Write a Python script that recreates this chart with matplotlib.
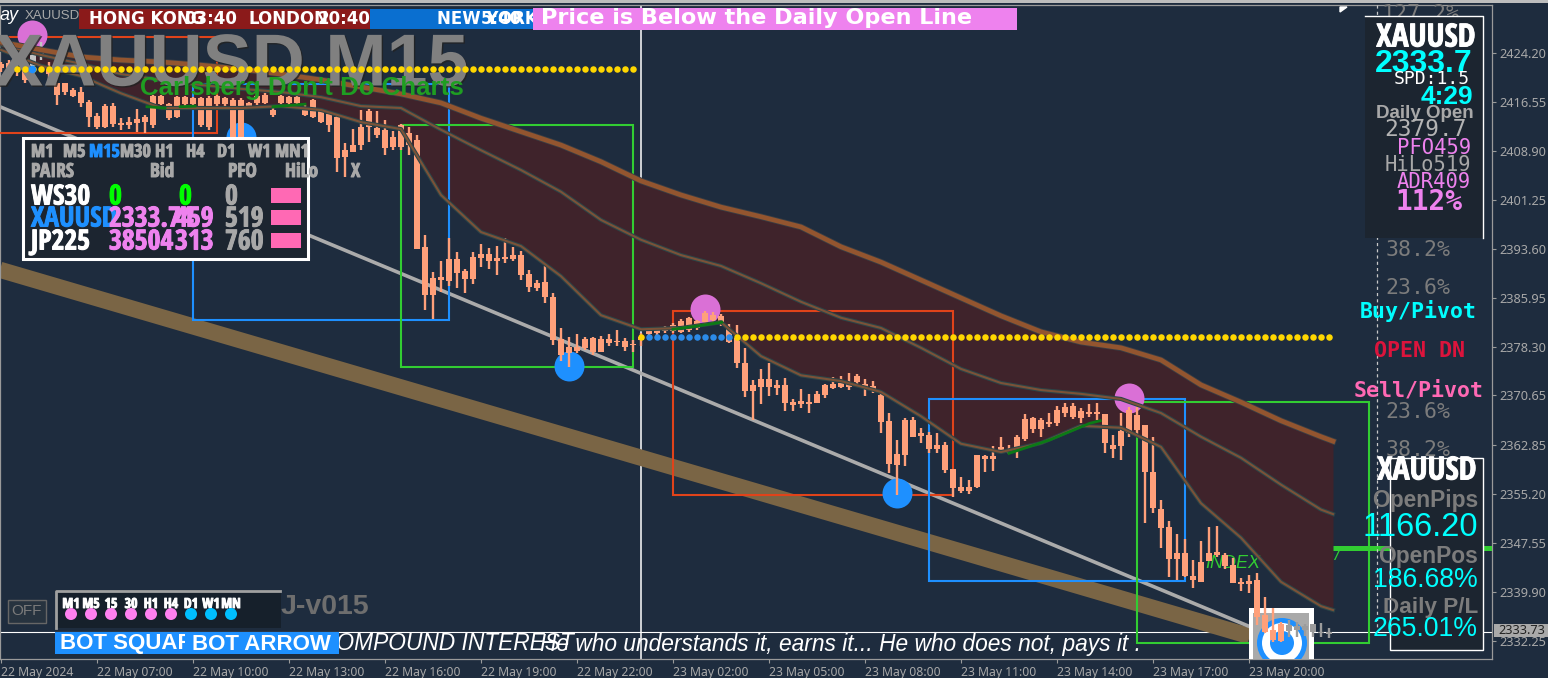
import numpy as np
import matplotlib
matplotlib.use('Agg')
import matplotlib.pyplot as plt
from matplotlib.patches import Rectangle, Circle
from matplotlib.transforms import Affine2D
import matplotlib.patheffects as pe

highs = [2422.8,2423.1,2422.5,2422.2,2426.5,2425.9,2422.8,2419.5,2419.5,2418.7,2418.9,2416.9,2414.8,2416.2,2416.4,2414.0,2414.2,2415.5,2414.5,2417.6,
2417.6,2416.4,2417.5,2417.5,2417.3,2417.3,2417.5,2417.6,2417.3,2417.2,2417.2,2416.5,2418.1,2417.9,2415.6,2417.6,2417.5,2417.5,2416.1,2417.0,
2415.5,2415.0,2414.5,2410.1,2412.3,2415.3,2415.5,2415.1,2413.7,2412.0,2413.1,2412.6,2411.4,2395.7,2389.9,2391.7,2395.3,2393.1,2390.4,2393.1,
2394.3,2393.7,2394.0,2395.3,2393.9,2393.2,2390.3,2388.7,2390.9,2386.7,2381.2,2379.8,2380.3,2379.8,2379.8,2379.9,2380.3,2380.9,2379.6,2379.3,
2380.4,2381.2,2381.4,2381.5,2382.0,2382.6,2382.9,2382.5,2383.9,2383.7,2383.4,2381.8,2381.7,2378.1,2373.1,2374.8,2375.7,2373.1,2373.4,2370.1,
2371.7,2370.9,2371.4,2372.4,2373.5,2373.7,2374.2,2374.0,2373.2,2372.9,2371.2,2367.9,2363.7,2367.1,2367.3,2365.6,2364.9,2364.8,2363.4,2359.2,
2357.9,2357.4,2361.3,2361.3,2362.7,2364.2,2362.9,2364.5,2367.7,2367.3,2367.1,2367.9,2369.0,2369.5,2369.5,2368.7,2369.3,2369.5,2367.7,2364.5,
2367.9,2368.8,2368.8,2366.0,2364.2,2354.3,2351.0,2349.0,2348.2,2344.9,2347.9,2350.1,2350.2,2346.0,2345.2,2342.1,2342.6,2342.9,2339.1,2337.4,
2335.2,2335.5,2335.2,2334.9,2334.9,2335.1,2334.3]
opens = [2422.5,2422.6,2421.8,2421.5,2423.9,2425.0,2421.8,2419.5,2419.5,2418.4,2418.1,2416.5,2414.3,2415.9,2415.9,2413.3,2413.4,2413.9,2414.2,2417.5,
2417.5,2416.2,2417.3,2417.3,2417.2,2417.2,2417.2,2417.5,2417.2,2416.9,2416.9,2416.4,2417.5,2417.6,2415.3,2417.5,2417.3,2417.3,2415.8,2416.9,
2415.3,2414.7,2414.2,2409.0,2409.8,2412.6,2415.1,2412.5,2412.2,2411.1,2412.9,2411.7,2410.6,2393.9,2389.0,2389.2,2392.0,2392.0,2390.1,2392.3,
2392.8,2392.8,2392.1,2392.3,2392.6,2392.6,2389.6,2388.2,2388.4,2386.1,2379.5,2378.2,2378.2,2379.5,2379.6,2379.5,2379.5,2379.2,2379.2,2378.7,
2379.8,2380.9,2381.1,2381.4,2381.7,2382.3,2382.8,2382.3,2383.5,2383.2,2383.1,2381.1,2379.6,2375.7,2372.3,2373.2,2373.2,2372.3,2372.3,2369.6,
2369.8,2369.6,2370.9,2372.3,2372.4,2372.6,2372.6,2373.7,2372.4,2372.1,2370.7,2366.6,2361.5,2366.8,2366.8,2364.8,2364.5,2362.9,2362.9,2359.2,
2356.3,2356.3,2361.3,2361.2,2361.2,2362.6,2362.3,2364.2,2367.0,2367.1,2366.8,2366.5,2368.4,2368.8,2369.0,2368.2,2368.1,2368.1,2367.7,2362.9,
2365.1,2368.4,2367.6,2366.0,2358.7,2352.9,2350.1,2346.0,2346.0,2342.4,2344.6,2346.0,2346.2,2345.7,2344.1,2341.5,2341.6,2341.8,2336.3,2334.0,
2334.9,2334.8,2334.6,2334.6,2334.9,2333.7,2333.7]
closes = [2421.8,2421.8,2421.2,2420.0,2422.2,2424.0,2420.9,2417.6,2418.1,2417.5,2416.4,2414.2,2412.6,2412.6,2413.1,2412.9,2412.9,2413.3,2413.4,2412.9,
2416.2,2414.0,2414.2,2416.2,2416.2,2412.9,2412.6,2416.2,2416.2,2410.9,2410.6,2415.9,2416.4,2416.4,2414.5,2416.4,2416.4,2416.4,2414.5,2414.2,
2413.4,2412.9,2407.8,2407.9,2408.7,2409.8,2412.6,2411.4,2409.4,2409.5,2409.5,2409.8,2393.6,2386.4,2386.4,2388.7,2388.6,2389.8,2388.9,2388.9,
2392.1,2391.7,2391.7,2392.0,2392.0,2389.5,2387.6,2387.5,2386.1,2379.3,2377.0,2377.3,2377.6,2378.1,2377.5,2377.5,2378.9,2379.0,2378.2,2378.5,
2379.3,2380.3,2380.4,2380.7,2380.7,2380.6,2380.9,2381.2,2382.1,2382.5,2382.0,2379.0,2375.7,2371.3,2371.3,2372.0,2372.0,2371.8,2369.5,2369.2,
2369.3,2369.3,2369.5,2370.7,2371.8,2372.0,2372.0,2372.8,2371.8,2371.3,2366.5,2359.9,2359.8,2361.3,2364.2,2364.3,2362.3,2362.3,2359.0,2356.2,
2355.7,2355.7,2356.3,2360.7,2360.7,2362.1,2361.7,2362.4,2363.8,2365.4,2365.4,2366.2,2366.4,2367.9,2367.3,2367.1,2367.7,2367.7,2363.2,2362.3,
2362.7,2364.8,2365.3,2358.7,2353.1,2349.9,2345.1,2345.1,2342.4,2341.8,2341.5,2344.8,2345.7,2344.0,2341.3,2341.2,2341.2,2336.0,2333.7,2332.4,
2332.2,2333.8,2334.0,2334.0,2333.7,2333.5,2333.4]
lows = [2421.2,2421.2,2420.6,2419.5,2421.5,2423.1,2420.0,2416.1,2417.6,2417.3,2415.8,2412.6,2412.3,2412.5,2412.6,2412.2,2412.3,2411.9,2411.7,2412.5,
2416.1,2413.7,2414.0,2415.9,2415.9,2412.6,2412.2,2415.9,2415.9,2410.6,2410.3,2415.6,2416.1,2416.2,2414.2,2416.1,2416.1,2416.1,2414.4,2414.0,
2413.3,2411.9,2405.6,2404.8,2408.7,2409.0,2410.3,2410.9,2408.2,2409.0,2409.0,2408.2,2393.6,2384.0,2382.6,2386.8,2387.8,2387.5,2386.7,2388.1,
2390.7,2390.4,2389.5,2391.4,2391.7,2388.7,2386.8,2387.0,2385.1,2378.5,2376.0,2375.1,2377.3,2377.8,2377.0,2377.5,2378.4,2378.4,2377.6,2377.5,
2378.4,2379.6,2379.9,2380.4,2380.4,2380.4,2380.6,2380.9,2381.5,2381.8,2381.5,2378.9,2374.9,2370.4,2366.8,2369.3,2370.6,2370.7,2368.2,2368.2,
2368.7,2367.9,2369.5,2370.3,2371.7,2371.8,2371.5,2372.4,2370.6,2371.0,2364.8,2358.5,2355.1,2359.6,2364.2,2363.2,2361.7,2361.7,2358.5,2354.8,
2355.4,2355.2,2356.2,2358.7,2358.8,2362.1,2361.5,2360.9,2363.5,2364.8,2364.2,2365.7,2365.9,2367.3,2367.0,2366.3,2367.3,2366.8,2361.7,2360.9,
2360.6,2364.2,2364.2,2350.7,2352.3,2346.8,2342.3,2341.8,2342.3,2340.5,2341.5,2344.8,2345.4,2343.5,2341.3,2340.1,2339.8,2334.8,2333.5,2332.1,
2332.1,2332.9,2332.9,2333.0,2332.9,2332.9,2332.7]

ma_bars = list(range(0, 166, 5)) + [166.5]
ma_upper = [2425.9,2424.7,2423.6,2423.1,2422.8,2422.3,2421.7,2420.9,2420.0,2418.9,2417.8,2416.4,2414.0,2411.9,2409.8,2407.2,2404.2,2402.0,2400.1,2398.6,2397.0,2393.9,2391.5,2388.7,2385.9,2383.1,2380.6,2379.0,2378.1,2376.2,2372.3,2369.6,2366.7,2364.2,2363.5]
ma_middle = [2425.5,2423.9,2422.5,2420.9,2420.0,2419.2,2418.6,2418.1,2417.3,2415.9,2415.6,2412.2,2409.0,2405.9,2402.5,2398.1,2395.0,2392.6,2390.9,2388.2,2385.3,2382.8,2381.2,2378.1,2374.8,2372.6,2371.5,2370.9,2370.1,2367.9,2364.2,2360.9,2356.7,2352.8,2352.1]
ma_lower = [2424.7,2422.2,2420.6,2417.9,2415.6,2415.6,2415.6,2415.9,2415.3,2413.4,2412.3,2402.0,2396.2,2394.0,2389.3,2383.2,2381.0,2381.2,2382.1,2376.8,2373.8,2372.9,2371.2,2367.4,2363.1,2361.8,2363.2,2365.9,2365.6,2362.6,2353.8,2348.4,2341.5,2337.7,2337.1]
green_bars = [[18.25, 20.5], [22.4, 24.25], [34, 38], [84, 87, 90.1], [126, 131.1, 136.1, 137.4]]
green_prices = [[2415.8, 2415.6], [2415.8, 2415.9], [2415.8, 2416.2], [2381.0, 2381.5, 2382.1], [2361.6, 2363.7, 2366.3, 2366.7]]

sell_bars = [3.9, 88, 141]
sell_prices = [2427.0, 2384.2, 2370.2]
buy_bars = [30, 71, 112]
buy_prices = [2411.1, 2375.3, 2355.4]

open_levels = [2421.7, 2379.8]
bid = 2333.73
grey_trend = ([-0.125, 156.1], [2415.8, 2334.5])
tan_trend = ([-0.125, 156.1], [2390.3, 2333.0])

# start bar, end bar, top price, bottom price
red_boxes = [(-0.25, 27, 2426.7, 2411.7), (84, 119, 2383.9, 2355.1)]
blue_boxes = [(24, 56, 2419.4, 2382.5), (116, 148, 2370.1, 2341.6)]
green_boxes = [(50, 79, 2412.9, 2375.1), (142, 171, 2369.6, 2331.9)]

y_ticks = [2424.20, 2416.55, 2408.90, 2401.25, 2393.60, 2385.95, 2378.30, 2370.65, 2362.85, 2355.20, 2347.55, 2339.90, 2332.25]
x_labels = ['22 May 2024', '22 May 07:00', '22 May 10:00', '22 May 13:00', '22 May 16:00', '22 May 19:00', '22 May 22:00',
            '23 May 02:00', '23 May 05:00', '23 May 08:00', '23 May 11:00', '23 May 14:00', '23 May 17:00', '23 May 20:00']
tf_labels = ['M1', 'M5', 'M15', 'M30', 'H1', 'H4', 'D1', 'W1', 'MN1']
mini_labels = ['M1', 'M5', '15', '30', 'H1', 'H4', 'D1', 'W1', 'MN']

BG = '#1E2C3E'
PANEL = '#1C2530'
SALMON = '#FFA07A'
GREY = '#A8A8A8'
DIM = '#7C7C7C'
CYAN = '#00FFFF'
VIOLET = '#EE82EE'
BLUE = '#1E90FF'
SANS = 'Liberation Sans'
MONO = 'DejaVu Sans Mono'
NARROW = 'Open Sans Condensed'

W, H = 1548, 678
fig = plt.figure(figsize=(W / 100, H / 100), dpi=100, facecolor=BG)
ax = fig.add_axes([0, 1 - 659 / H, 1492 / W, 654 / H], facecolor=BG)
ax.set_xlim(-0.125, 186.375)
ax.set_ylim(2329.44, 2431.71)

# screen pixels, y down: for the indicator panels stuck on the window
px = Affine2D().scale(1, -1).translate(0, H)


def txt(x, y, s, size, color, weight='normal', ha='left', family=SANS, z=30, **kw):
    t = ax.text(x, y, s, transform=px, fontsize=size, color=color, fontweight=weight, ha=ha, va='center',
                family=family, zorder=z, **kw)
    if family == NARROW:
        # reference uses a much heavier condensed face
        t.set_path_effects([pe.withStroke(linewidth=0.7, foreground=color)])
    return t


def box(x0, y0, x1, y1, fc='none', ec='none', lw=0, z=20, **kw):
    r = Rectangle((x0, y0), x1 - x0, y1 - y0, transform=px, facecolor=fc, edgecolor=ec, linewidth=lw,
                  zorder=z, clip_on=False, **kw)
    ax.add_patch(r)
    return r


for s in ax.spines.values():
    s.set_color('#9A9A9A')
    s.set_linewidth(0.9)
ax.yaxis.tick_right()
ax.set_yticks(y_ticks)
ax.set_yticklabels([f'{t:.2f}' for t in y_ticks], fontsize=9.2, color=GREY, family='Noto Sans')
ax.set_xticks(np.arange(len(x_labels)) * 12)
ax.set_xticklabels(x_labels, fontsize=8.8, color=GREY, family='Noto Sans', ha='left')
ax.tick_params(axis='both', color='#9A9A9A', length=3, width=0.8, pad=2)

# things under the band
ax.axvline(80, color='white', lw=1.1, zorder=1)
ax.axhline(bid, color='white', lw=0.8, zorder=1)
ax.plot(*tan_trend, color='#7A6545', lw=11.7, solid_capstyle='butt', zorder=2)
ax.plot(*grey_trend, color='#ABABAB', lw=2.6, solid_capstyle='butt', zorder=2)
ax.fill_between(ma_bars, ma_lower, ma_upper, color='#3F232B', lw=0, zorder=3)
txt(1205, 564, 'INDEX', 13, '#32CD32', style='italic', z=4)
txt(1334, 556, '/', 13, '#32CD32', style='italic', z=4)

# boxes
for boxes, col in [(red_boxes, '#E0431A'), (blue_boxes, BLUE), (green_boxes, '#32CD32')]:
    for b0, b1, top, bot in boxes:
        ax.add_patch(Rectangle((b0, bot), b1 - b0, top - bot, fill=False, edgecolor=col, linewidth=1.5, zorder=5,
                               clip_on=False))

# signal circles
ax.scatter(sell_bars, sell_prices, s=466, color='#DA70D6', linewidths=0, zorder=6)
ax.scatter(buy_bars, buy_prices, s=466, color=BLUE, linewidths=0, zorder=6)

# logo goes under the last candles
box(1249, 608, 1314, 659, fc='white', z=7)
box(1253, 613, 1309, 659, fc='#A9A9A9', z=7)
for r, col in [(25, BLUE), (20, 'white'), (12, BLUE)]:
    ax.add_patch(Circle((1282, 643), r, transform=px, facecolor=col, edgecolor='none', zorder=7))

# candles
bars = np.arange(len(highs))
highs, lows, opens, closes = map(np.array, (highs, lows, opens, closes))
cols = np.array([SALMON] * len(bars), dtype=object)
cols[4:6] = '#C4C4C4'
cols[161:] = '#9C9C9C'
ax.vlines(bars, lows, highs, colors=list(cols), lw=1.7, zorder=8)
ax.bar(bars, np.abs(opens - closes), bottom=np.minimum(opens, closes), width=0.85, color=list(cols), lw=0, zorder=8)

# moving averages
edge = [pe.Stroke(linewidth=3.0, foreground='#2C4548'), pe.Normal()]
ax.plot(ma_bars, ma_lower, color='#7B5238', lw=1.5, zorder=9, path_effects=edge)
ax.plot(ma_bars, ma_middle, color='#7B5238', lw=1.5, zorder=9, path_effects=edge)
ax.plot(ma_bars, ma_upper, color='#93552F', lw=3.4, zorder=9,
        path_effects=[pe.Stroke(linewidth=4.6, foreground='#3A3E44'), pe.Normal()])
for gx, gy in zip(green_bars, green_prices):
    ax.plot(gx, gy, color='#0B7A16', lw=2, zorder=10)

# big title over candles, dots over title
txt(-6, 66, 'XAUUSD M15', 53, '#808080', 'bold', z=11,
    path_effects=[pe.withSimplePatchShadow(offset=(1, -1), shadow_rgbFace='#222222', alpha=0.8)])
txt(140, 88, "Carlsberg Don't Do Charts", 18.6, '#1F9E22', 'bold', z=12)
ax.scatter(np.arange(2, 80), [open_levels[0]] * 78, s=22, color='#FFD700', linewidths=0, zorder=13)
ax.scatter(np.r_[80, np.arange(92, 167)], [open_levels[1]] * 76, s=22, color='#FFD700', linewidths=0, zorder=13)
ax.scatter(np.arange(81, 92), [open_levels[1]] * 11, s=22, color='#2C8BE8', linewidths=0, zorder=13)
ax.scatter([3.9], [open_levels[0]], s=30, color=BLUE, linewidths=0, zorder=13)

# fibo column and pivot
ax.plot([1333, 1492], [548, 548], transform=px, color='#32CD32', lw=3.6, solid_capstyle='butt', zorder=14)
ax.plot([1377, 1377], [5, 630], transform=px, color='#C8C8C8', lw=0.9, ls=(0, (2.5, 2.5)), zorder=14)
for y, s in [(14, '127.2%'), (250, '38.2%'), (288, '23.6%'), (412, '23.6%'), (450, '38.2%')]:
    txt(1418 if s != '127.2%' else 1420, y, s, 15.5, DIM, ha='center', family=MONO, z=14)
txt(1418, 311, 'Buy/Pivot', 15.5, CYAN, 'bold', ha='center', family=MONO, z=15)
txt(1419, 351, 'OPEN DN', 15.6, '#DC143C', 'bold', ha='center', family=MONO, z=15)
txt(1419, 390, 'Sell/Pivot', 15.5, '#FF69B4', 'bold', ha='center', family=MONO, z=15)
ax.fill([1340, 1347, 1340], [7, 7, 12], transform=px, color='white', zorder=15)

# top banner
txt(0, 15, 'ay', 13, 'white', style='italic', z=21)
txt(25, 16, 'XAUUSD,M', 9.5, GREY, z=20)
box(79, 9, 370, 29, fc='#8B1A1A')
box(370, 9, 533, 29, fc='#0A6FD0')
for x, s in [(89, 'HONG KONG'), (184, '03:40'), (248, 'LONDON'), (318, '20:40'), (437, 'NEW YORK'), (481, '5:40')]:
    txt(x, 19.5, s, 12, 'white', 'bold', family='DejaVu Sans', z=21)
box(533, 8, 1017, 30, fc=VIOLET, z=22)
txt(541, 18.5, 'Price is Below the Daily Open Line', 16.1, 'white', 'bold', family='DejaVu Sans', z=23)

# pairs panel
box(22.5, 137.5, 307.5, 258.5, fc=PANEL, ec='white', lw=2.2, z=24)
for x, s in zip([31, 63, 89, 120, 155, 186, 217, 248, 275], tf_labels):
    txt(x, 152, s, 13, BLUE if s == 'M15' else GREY, 'bold', family=NARROW, z=25)
for x, s in [(31, 'PAIRS'), (150, 'Bid'), (228, 'PFO'), (285, 'HiLo'), (351, 'X')]:
    txt(x, 172, s, 14, GREY, 'bold', family=NARROW, z=25)
rows = [(198, 'WS30', 'white'), (220, 'XAUUSD', BLUE), (243, 'JP225', 'white')]
for y, s, c in rows:
    txt(31, y - 1, s, 20, c, 'bold', family=NARROW, z=25)
    box(271, y - 10, 301, y + 5, fc='#FF69B4', z=25)
for x, y, s, c in [(109, 198, '0', '#00FF00'), (179, 198, '0', '#00FF00'), (225, 198, '0', GREY),
                   (109, 220, '2333.74', VIOLET), (175, 220, '459', VIOLET), (225, 220, '519', GREY),
                   (109, 243, '38504', VIOLET), (175, 243, '313', VIOLET), (225, 243, '760', GREY)]:
    txt(x, y - 1, s, 20, c, 'bold', family=NARROW, z=26)

# symbol panel
box(1365, 16, 1483, 238, fc=PANEL, z=24)
ax.plot([1365, 1483, 1483], [16, 16, 238], transform=px, color='white', lw=1, zorder=25)
right = 1473
txt(1426, 38, 'XAUUSD', 23, 'white', 'bold', ha='center', family=NARROW, z=26)
txt(right, 64, '2333.7', 23, CYAN, 'bold', ha='right', z=27)
txt(1470, 79, 'SPD:1.5', 13, 'white', ha='right', family=MONO, z=27)
txt(right, 97, '4:29', 19, CYAN, 'bold', ha='right', z=27)
txt(1474, 113, 'Daily Open', 13.5, GREY, 'bold', ha='right', z=27)
txt(1467, 129, '2379.7', 16.4, '#B4B4B4', ha='right', family=MONO, z=27)
txt(1471, 148, 'PFO459', 14.8, VIOLET, ha='right', family=MONO, z=27)
txt(1471, 165, 'HiLo519', 14.8, GREY, ha='right', family=MONO, z=27)
txt(1471, 182, 'ADR409', 14.8, VIOLET, ha='right', family=MONO, z=27)
txt(1463, 202, '112%', 20, VIOLET, 'bold', ha='right', family=MONO, z=27)

# p/l panel
box(1389.5, 457.5, 1482.5, 649.5, fc=PANEL, ec='white', lw=1, z=24)
txt(1427, 471, 'XAUUSD', 23, 'white', 'bold', ha='center', family=NARROW, z=26)
for y, s, size, col, wt in [(501, 'OpenPips', 16.4, DIM, 'bold'), (527, '1166.20', 23.5, CYAN, 'normal'),
                            (557, 'OpenPos', 16.4, DIM, 'bold'), (580, '186.68%', 19.2, CYAN, 'normal'),
                            (607, 'Daily P/L', 16.2, DIM, 'bold'), (629, '265.01%', 19.2, CYAN, 'normal')]:
    txt(1478, y, s, size, col, wt, ha='right', z=27)

# bottom left
box(7.5, 599.5, 45.5, 622.5, fc='#27333F', ec='#666666', lw=1, z=24)
txt(26.5, 611, 'OFF', 11, '#7A7A7A', ha='center', z=25)
txt(281, 607, 'J-v015', 20.5, '#6E6E6E', 'bold', z=24)
box(55, 590, 281, 628, fc='#16202B', z=24)
ax.plot([56, 56, 280], [628, 591, 591], transform=px, color='#A0A0A0', lw=2, zorder=25)
for i, s in enumerate(mini_labels):
    txt(71 + 20 * i, 604, s, 10, 'white', 'bold', ha='center', family=NARROW, z=26)
    ax.add_patch(Circle((71 + 20 * i, 614), 6, transform=px, facecolor='#FF80F0' if i < 6 else '#00BFFF',
                        edgecolor='none', zorder=26, clip_on=False))

txt(320, 644, 'COMPOUND INTEREST', 16.4, 'white', style='italic', z=23)
txt(540, 644, 'He who understands it, earns it... He who does not, pays it .', 16.4, 'white', style='italic', z=24)
box(55, 632, 339, 654, fc=BLUE, z=25)
txt(60, 644, 'BOT SQUARE', 16, 'white', 'bold', z=26)
box(185, 632, 339, 654, fc=BLUE, z=27)
txt(192, 644, 'BOT ARROW', 16, 'white', 'bold', z=28)

# bid tag
box(1494, 624, 1548, 637, fc='#A9A9A9', z=40)
txt(1498, 631, f'{bid:.2f}', 9.2, '#222222', family='Noto Sans', z=41)
# light strip on the very top
box(0, 0, W, 3, fc='#BDBDBD', z=40)

fig.savefig('out.png', dpi=100, facecolor=BG)
